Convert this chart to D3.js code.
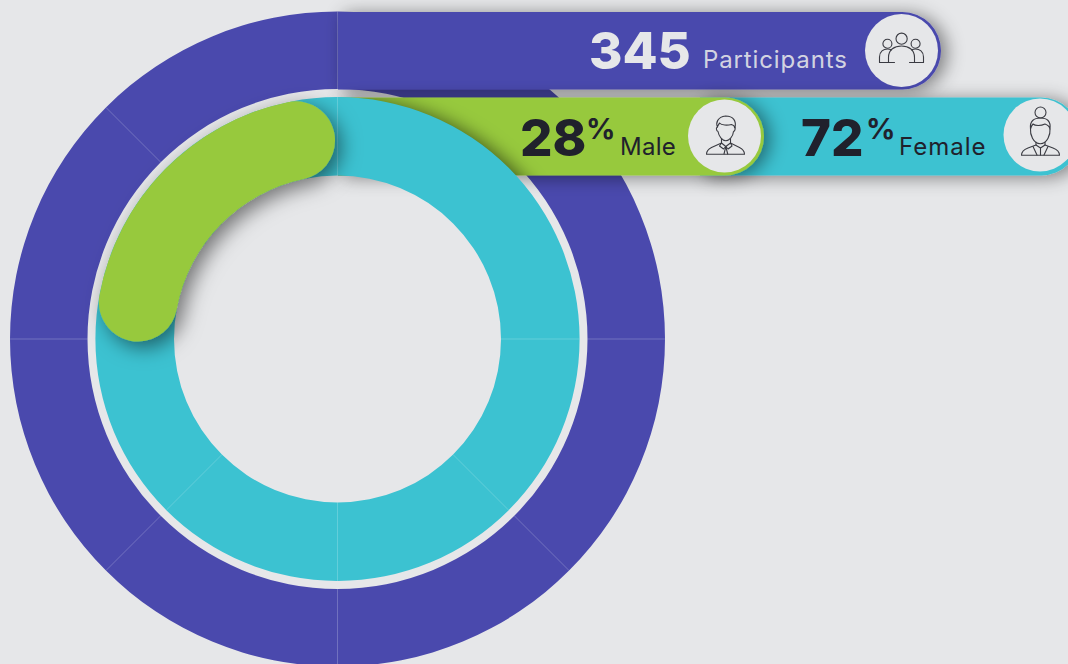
<!DOCTYPE html>
<html>
<head>
<meta charset="utf-8">
<script src="https://d3js.org/d3.v7.min.js"></script>
<style>
  html, body { margin: 0; padding: 0; background: #e6e7e9; overflow: hidden; }
  svg { display: block; }
  text { font-family: Inter, "Open Sans", sans-serif; }
</style>
</head>
<body>
<div id="container"></div>
<script>
/* DATA */
const labels = ["Participants", "Male", "Female"];
const values = [345, 28, 72];
const units = ["", "%", "%"];
const ringTicks = [0, 45, 90, 135, 180, 225, 270, 315]; // thin divider lines, degrees from the top
const tealTicks = [0, 90, 135, 180, 225];
// the green bar as drawn covers about a quarter of the ring, whatever its 28% label says
const greenArcShare = [0.2, 25.2];

/* CONSTANTS */
const width = 1068,
  height = 664,
  cx = 337.5,
  cy = 339;

const bg = "#e6e7e9",
  purple = "#4a49ad",
  teal = "#3cc2d1",
  green = "#97c93d",
  ink = "#20212c";

const outerRing = { inner: 250, outer: 327.5 };
const tealRing = { inner: 163.5, outer: 242 };

// percent -> angle, the green bar is measured back from 12 o'clock
const angle = d3.scaleLinear().domain([0, 100]).range([0, 2 * Math.PI]);
const deg = d3.scaleLinear().domain([0, 360]).range([0, 2 * Math.PI]);

const arc = d3.arc();

const svg = d3.select("#container").append("svg")
  .attr("width", width)
  .attr("height", height);

/* SHADOWS */
const defs = svg.append("defs");

function shadow(id, dx, dy, blur, opacity) {
  const f = defs.append("filter").attr("id", id)
    .attr("x", "-30%").attr("y", "-60%").attr("width", "160%").attr("height", "220%");
  f.append("feDropShadow")
    .attr("dx", dx).attr("dy", dy).attr("stdDeviation", blur)
    .attr("flood-color", "#000").attr("flood-opacity", opacity);
}
shadow("pillShadow", 6, 2, 9, 0.45);
shadow("arcShadow", 6, 6, 10, 0.5);

defs.append("filter").attr("id", "blur")
  .attr("x", "-20%").attr("y", "-20%").attr("width", "140%").attr("height", "140%")
  .append("feGaussianBlur").attr("stdDeviation", 9);

/* square on the left, round on the right */
function pillPath(x0, x1, y0, y1) {
  const r = (y1 - y0) / 2;
  return `M${x0},${y0} H${x1 - r} A${r},${r} 0 0 1 ${x1 - r},${y1} H${x0} Z`;
}

const donut = svg.append("g").attr("transform", `translate(${cx},${cy})`);

function ringLines(g, ring, stroke, opacity, ticks) {
  g.selectAll(null)
    .data(ticks)
    .join("line")
    .attr("x1", d => d3.pointRadial(deg(d), ring.inner)[0])
    .attr("y1", d => d3.pointRadial(deg(d), ring.inner)[1])
    .attr("x2", d => d3.pointRadial(deg(d), ring.outer)[0])
    .attr("y2", d => d3.pointRadial(deg(d), ring.outer)[1])
    .attr("stroke", stroke)
    .attr("stroke-opacity", opacity)
    .attr("stroke-width", 0.8);
}

/* OUTER RING */
donut.append("path")
  .attr("d", arc({ innerRadius: outerRing.inner, outerRadius: outerRing.outer, startAngle: 0, endAngle: 2 * Math.PI }))
  .attr("fill", purple);
ringLines(donut, outerRing, "#fff", 0.28, ringTicks);

/* PILLS */
const pills = svg.append("g");
const pill = [
  { x0: 338, x1: 941, y0: 12, y1: 89.5, fill: purple, cx: 901.5, cy: 50.5 },
  { x0: 700, x1: 1080, y0: 97.5, y1: 175.5, fill: teal, cx: 1040, cy: 135 },
  { x0: 338, x1: 764, y0: 97.5, y1: 175.5, fill: green, cx: 724.5, cy: 136 }
];
pills.selectAll("path")
  .data(pill)
  .join("path")
  .attr("d", d => pillPath(d.x0, d.x1, d.y0, d.y1))
  .attr("fill", d => d.fill)
  .attr("filter", "url(#pillShadow)");
pills.selectAll("circle")
  .data(pill)
  .join("circle")
  .attr("cx", d => d.cx)
  .attr("cy", d => d.cy)
  .attr("r", 36.5)
  .attr("fill", bg);

/* TEAL RING, its shadow only lands on the green pill */
defs.append("clipPath").attr("id", "greenClip")
  .append("rect").attr("x", 338).attr("y", 97.5).attr("width", 426).attr("height", 78);

const tealArc = arc({ innerRadius: tealRing.inner, outerRadius: tealRing.outer, startAngle: 0, endAngle: 2 * Math.PI });

svg.append("g").attr("clip-path", "url(#greenClip)")
  .append("path")
  .attr("transform", `translate(${cx + 6},${cy + 2})`)
  .attr("d", tealArc)
  .attr("fill", "#000")
  .attr("fill-opacity", 0.55)
  .attr("filter", "url(#blur)");

const donutTop = svg.append("g").attr("transform", `translate(${cx},${cy})`);
donutTop.append("path").attr("d", tealArc).attr("fill", teal);
ringLines(donutTop, tealRing, "#fff", 0.25, tealTicks);

/* GREEN BAR with round ends */
const capR = (tealRing.outer - tealRing.inner) / 2;
donutTop.append("path")
  .attr("d", d3.arc().cornerRadius(capR)({
    innerRadius: tealRing.inner,
    outerRadius: tealRing.outer,
    startAngle: -angle(greenArcShare[1]),
    endAngle: -angle(greenArcShare[0])
  }))
  .attr("fill", green)
  .attr("filter", "url(#arcShadow)");

/* TEXT */
const textRows = [
  { i: 0, vx: 589, vy: 69, lx: 703, ly: 68, ls: 0.87, color: bg },
  { i: 1, vx: 520, vy: 156, px: 586, lx: 620, ly: 155, ls: 0.25, color: ink },
  { i: 2, vx: 801, vy: 156, px: 866, lx: 899, ly: 155, ls: 1, color: ink }
];
const text = svg.append("g");
textRows.forEach(t => {
  text.append("text")
    .attr("x", t.vx).attr("y", t.vy)
    .attr("font-size", 51).attr("font-weight", 800)
    .attr("fill", t.color)
    .text(values[t.i]);
  if (units[t.i]) {
    text.append("text")
      .attr("x", t.px).attr("y", 139)
      .attr("font-size", 29).attr("font-weight", 700)
      .attr("fill", t.color)
      .text(units[t.i]);
  }
  text.append("text")
    .attr("x", t.lx).attr("y", t.ly)
    .attr("font-size", 24).attr("font-weight", 400)
    .attr("letter-spacing", t.ls)
    .attr("fill", t.color)
    .attr("fill-opacity", t.i === 0 ? 0.9 : 1)
    .text(labels[t.i]);
});

/* ICONS */
const iconPaths = [
  // people
  [
    "M-5.5,-11.8 a5.6,5.6 0 1 0 11.2,0 a5.6,5.6 0 1 0 -11.2,0",
    "M-18.6,-6.8 a4.5,4.5 0 1 0 9,0 a4.5,4.5 0 1 0 -9,0",
    "M9.6,-6.8 a4.5,4.5 0 1 0 9,0 a4.5,4.5 0 1 0 -9,0",
    "M-13,12 V7 C-13,-1 -7,-4.5 0,-4.5 C7,-4.5 13,-1 13,7 V12",
    "M-7,12 H-22 V6.5 C-22,1 -18,-1.5 -14,-1.5 C-12.5,-1.5 -11,-1 -10,-0.5",
    "M8,12 H22 V6.5 C22,1 18,-1.5 14,-1.5 C12.5,-1.5 11,-1 10,-0.5"
  ],
  // man
  [
    "M-7,-9 C-9,-13 -7,-19 1,-20 C9,-20 12,-15 10.5,-8 C10,-10 9,-11 7,-11.5 C3,-10.5 -3,-10.5 -5,-13 C-6,-11 -7,-10 -7,-9 Z",
    "M-7,-9 C-8.5,-9 -8.5,-5 -6.5,-4.5 C-5.5,1 -2,4.7 1.3,4.7 C4.6,4.7 8.5,1 9,-4.5 C11,-5 11,-9 10,-8.5",
    "M-3,3 V7 L-13,11.5 C-16,13 -18,15.5 -18,18.3 H20 C20,15.5 18,13 15,11.5 L6,7 V3",
    "M-3,7 L1.3,10.5 L6,7 M-3,7 L-5,10 L-1,13 L1.3,10.5 L3.6,13 L7.5,10 L6,7",
    "M1.3,10.5 L-0.5,18 M1.3,10.5 L3.2,18"
  ],
  // woman
  [
    "M-5,-22.5 a5.5,5.5 0 1 0 11,0 a5.5,5.5 0 1 0 -11,0",
    "M-9.5,-6 C-10.5,-14 -6,-17 0.5,-17 C7,-17 11,-14 10,-6 C9.5,-8 8,-10 5,-11 C1,-9 -5,-9 -7,-11 C-8.5,-9.5 -9,-8 -9.5,-6 Z",
    "M-9.5,-6 C-10,-1 -7,8.7 0.3,8.7 C7.5,8.7 10.5,-1 10,-6",
    "M-4,7 V10 L-12,13 C-16,14.5 -18.5,17 -18.5,20.3 H19.5 C19.5,17 17,14.5 13,13 L5,10 V7",
    "M-7,11.5 L-3,20 M8,11.5 L4,20 M-4,10 L0.5,13 L5,10 M0.5,13 V20"
  ]
];
svg.selectAll(".icon")
  .data(iconPaths)
  .join("g")
  .attr("class", "icon")
  .attr("transform", (d, i) => `translate(${pill[[0, 2, 1][i]].cx},${pill[[0, 2, 1][i]].cy})`)
  .selectAll("path")
  .data(d => d)
  .join("path")
  .attr("d", d => d)
  .attr("fill", "none")
  .attr("stroke", "#3a3b42")
  .attr("stroke-width", 1.1)
  .attr("stroke-linejoin", "round")
  .attr("stroke-linecap", "round");
</script>
</body>
</html>
